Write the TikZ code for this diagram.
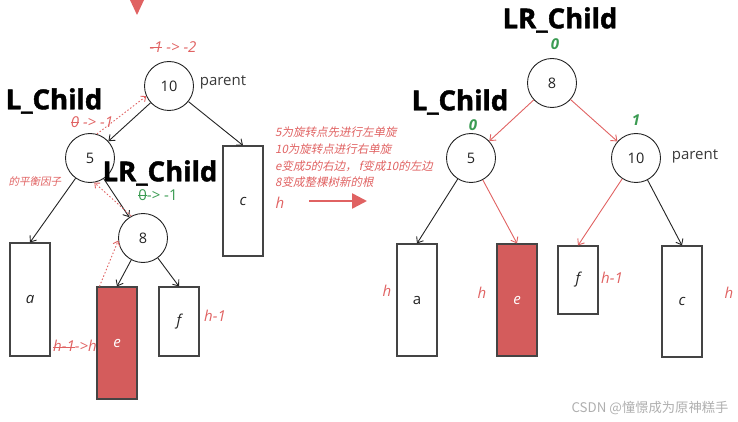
\documentclass[tikz,border=0pt]{standalone}
\usepackage{fontspec}
\setmainfont{Open Sans}
\newfontfamily\heavy[BoldFeatures={FakeBold=1.6}]{Open Sans}
\newfontfamily\cjk[FakeSlant=0.2]{Noto Sans CJK SC}
\newfontfamily\cjkup{Noto Sans CJK SC}
\usetikzlibrary{arrows.meta}
\definecolor{rd}{RGB}{224,98,98}
\definecolor{efill}{RGB}{212,92,92}
\definecolor{gr}{RGB}{58,155,82}
\definecolor{ink}{RGB}{35,35,35}
\definecolor{wm}{RGB}{175,175,175}
\newsavebox{\strkbox}
\newcommand{\strk}[1]{\sbox{\strkbox}{#1}\rlap{\raisebox{0.3em}{\rule{\wd\strkbox}{0.7pt}}}\usebox{\strkbox}}
\begin{document}
\begin{tikzpicture}[x=1pt,y=-1pt,
  nd/.style={circle,draw=ink,line width=0.9pt,minimum size=49pt,inner sep=0pt,font=\fontsize{14.5}{16}\selectfont,text=ink},
  bx/.style={draw=ink!85,line width=1.1pt,minimum width=40pt,inner sep=0pt,font=\fontsize{15}{17}\selectfont\itshape,text=ink},
  ebx/.style={bx,fill=efill,text=white},
  lbl/.style={font=\fontsize{27.5}{30}\selectfont\heavy\bfseries,text=black,inner sep=0pt},
  rtxt/.style={font=\fontsize{15}{17}\selectfont\itshape,text=rd,inner sep=0pt},
  gtxt/.style={font=\fontsize{15}{17}\selectfont,text=gr,inner sep=0pt},
  gbtxt/.style={font=\fontsize{15}{17}\selectfont\bfseries\itshape,text=gr,inner sep=0pt},
  ptxt/.style={font=\fontsize{15}{17}\selectfont,text=ink!90,inner sep=0pt},
  cn/.style={font=\fontsize{11.5}{13}\selectfont\cjk,text=rd,inner sep=0pt,anchor=west},
  blk/.style={draw=ink,line width=0.9pt,-{Straight Barb[length=5pt,width=8pt]}},
  red/.style={draw=rd,line width=0.9pt,-{Straight Barb[length=5pt,width=8pt]}},
  dots/.style={draw=rd,line width=0.9pt,dash pattern=on 1.5pt off 2pt,-{Straight Barb[length=4pt,width=7pt]}}
]
\useasboundingbox (0,0) rectangle (738,422);
% top arrow head
\fill[rd] (130,0) -- (144,0) -- (137,15) -- cycle;
% ---------- left tree ----------
\node[nd] (L10) at (169,86) {10};
\node[nd] (L5) at (90,158) {5};
\node[nd] (L8) at (143,238) {8};
\node[bx,minimum height=113pt] (La) at (30,299.5) {a};
\node[ebx,minimum height=112pt] (Le) at (117,343) {e};
\node[bx,minimum height=69pt] (Lf) at (179,321.5) {f};
\node[bx,minimum height=110pt] (Lc) at (243,201) {c};

\node[rtxt] (t1) at (173,47) {\strk{-1} -> -2};
\node[ptxt] (p1) at (223,82) {parent};
\node[lbl] (lc1) at (54,101) {L\_Child};
\node[rtxt] (t2) at (92,122) {\strk{0} -> -1};
\node[font=\fontsize{10.5}{12}\selectfont\cjk,text=rd,inner sep=0pt] (t3) at (35,181) {的平衡因子};
\node[lbl] (lr1) at (160,173) {LR\_Child};
\node[gtxt] (t4) at (158,195) {\strk{0}-> -1};
\node[rtxt] (t5) at (215,316) {h-1};
\node[rtxt] (t6) at (75,346) {\strk{h-1}->h};
\node[rtxt] (t7) at (280,203) {h};

\draw[blk] (L10) -- (L5);
\draw[blk] (L10) -- (Lc.north);
\draw[blk] (L5) -- (La.north);
\draw[blk] (L5) -- (L8);
\draw[blk] (L8) -- (Le.north);
\draw[blk] (L8) -- (Lf.north);
\draw[dots] (L5.74) -- (L10.204);
\draw[dots] (L8.118) -- (L5.280);
\draw[dots] ([xshift=3pt]Le.north west) -- (L8.186);

% ---------- middle ----------
\node[cn] (m1) at (275,132) {5为旋转点先进行左单旋};
\node[cn] (m2) at (275,149) {10为旋转点进行右单旋};
\node[cn] (m3) at (275,166) {e变成5的右边，\,f变成10的左边};
\node[cn] (m4) at (275,182) {8变成整棵树新的根};
\coordinate (a1) at (309,201);
\coordinate (a2) at (367,201);
\draw[rd,line width=2.5pt,-{Triangle[length=15pt,width=15pt]}] (a1) -- (a2);

% ---------- right tree ----------
\node[nd] (R8) at (552,83) {8};
\node[nd] (R5) at (471,158) {5};
\node[nd] (R10) at (636,158) {10};
\node[bx,minimum height=112pt,font=\fontsize{15}{17}\selectfont] (Ra) at (417,300) {a};
\node[ebx,minimum height=112pt] (Re) at (517,300) {e};
\node[bx,minimum height=68pt] (Rf) at (578,280) {f};
\node[bx,minimum height=111pt] (Rc) at (682,301.5) {c};

\node[lbl] (lr2) at (560,20) {LR\_Child};
\node[gbtxt] (g1) at (555,44) {0};
\node[lbl] (lc2) at (460,102) {L\_Child};
\node[gbtxt] (g2) at (473,125) {0};
\node[gbtxt] (g3) at (636,120) {1};
\node[ptxt] (p2) at (695,156) {parent};
\node[rtxt] (h1) at (387,291) {h};
\node[rtxt] (h2) at (482,293) {h};
\node[rtxt] (h3) at (612,278) {h-1};
\node[rtxt] (h4) at (729,293) {h};

\draw[red] (R8) -- (R5);
\draw[red] (R8) -- (R10);
\draw[blk] (R5) -- (Ra.north);
\draw[red] (R5) -- (Re.north);
\draw[red] (R10) -- (Rf.north);
\draw[blk] (R10) -- (Rc.north);

\node[font=\fontsize{13.3}{15}\selectfont\cjkup,text=wm,inner sep=0pt] (wmk) at (650,408) {CSDN @憧憬成为原神糕手};
\end{tikzpicture}
\end{document}
